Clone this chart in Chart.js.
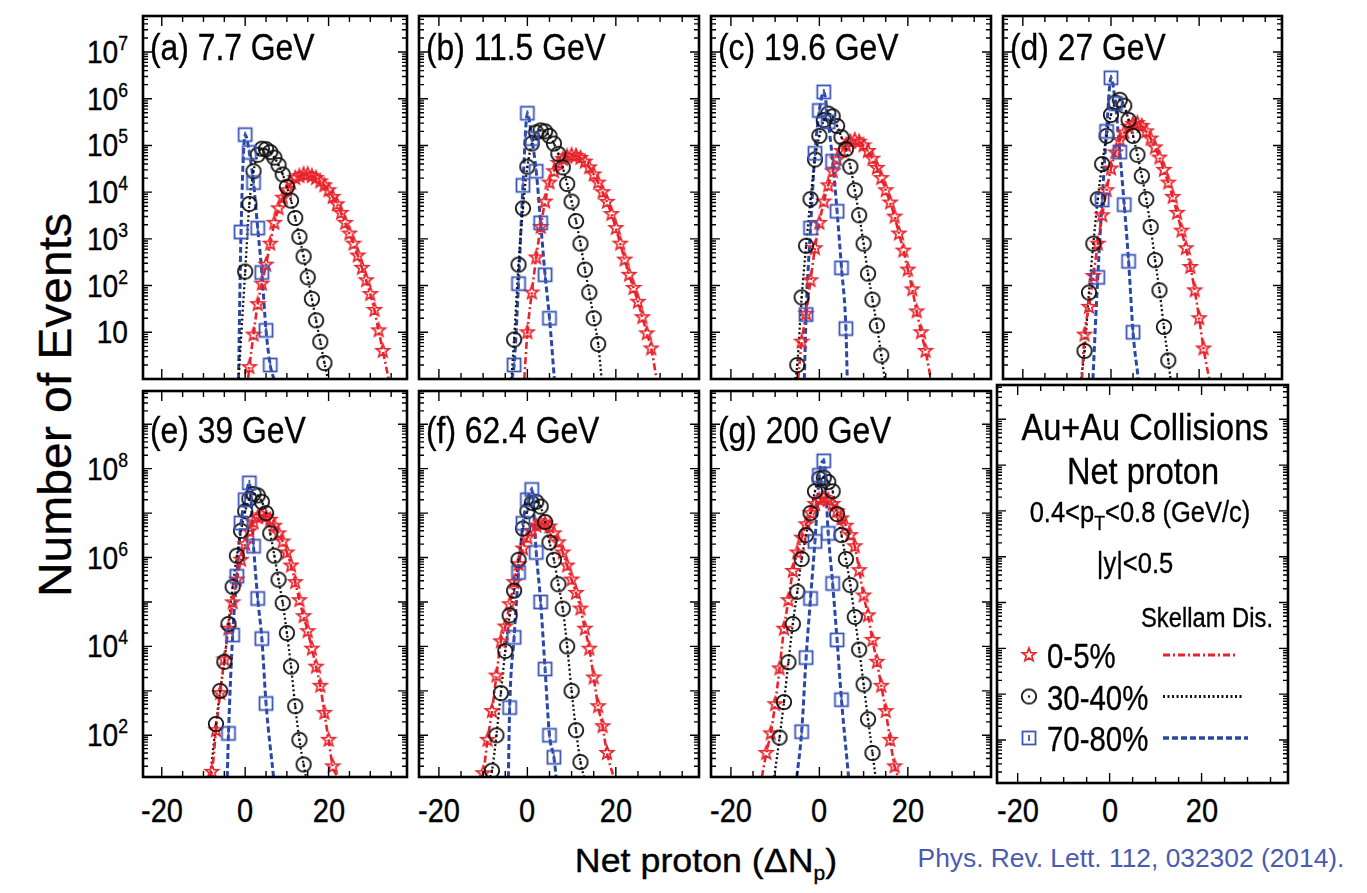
<!DOCTYPE html>
<html>
<head>
<meta charset="utf-8">
<title>Net proton distributions</title>
<script src="https://cdn.jsdelivr.net/npm/chart.js@4.4.1/dist/chart.umd.min.js"></script>
<style>
  body { margin:0; background:#fff; width:1367px; height:893px; position:relative; overflow:hidden;
         font-family:"Liberation Sans", Arial, Helvetica, sans-serif; color:#000; }
  canvas { position:absolute; }
  .t { position:absolute; white-space:nowrap; line-height:1; -webkit-text-stroke:0.35px currentColor; }
  .sup { font-size:20px; position:relative; top:-13px; }
  .sub { font-size:20px; position:relative; top:8px; }
</style>
</head>
<body>
<script>
// net proton number runs in steps of 1, starting at the *From value of each panel
const panelNames = ['(a) 7.7 GeV', '(b) 11.5 GeV', '(c) 19.6 GeV', '(d) 27 GeV',
                    '(e) 39 GeV', '(f) 62.4 GeV', '(g) 200 GeV'];
const legendNames = ['0-5%', '30-40%', '70-80%'];

const starFrom   = [1, 0, -4, -6, -8, -10, -12];
const circleFrom = [0, -3, -5, -6, -7, -8, -9];
const squareFrom = [-1, -3, -3, -3, -4, -4, -4];

// 0-5% (stars)
const starsA = [1.8, 8.9, 40, 110, 280, 790, 2200, 4500, 7600, 1.1e4, 1.6e4, 2.0e4, 2.2e4, 2.4e4, 2.4e4, 2.2e4, 2.0e4,
                1.7e4, 1.4e4, 1.1e4, 7900, 5500, 3600, 2200, 1300, 790, 440, 240, 130, 66, 30, 11, 4];
const starsB = [10, 71, 400, 1800, 6300, 1.6e4, 2.8e4, 4.2e4, 5.1e4, 5.8e4, 6.2e4, 6.0e4, 5.4e4, 4.5e4, 3.4e4, 2.4e4,
                1.6e4, 1.0e4, 6200, 3400, 1700, 790, 360, 170, 89, 45, 21, 9.5, 4.5];
const starsC = [6.3, 25, 130, 630, 2200, 6300, 1.4e4, 2.8e4, 5.0e4, 7.6e4, 1.0e5, 1.2e5, 1.3e5, 1.2e5, 1.0e5, 7.6e4,
                5.2e4, 3.3e4, 2.0e4, 1.1e4, 6000, 3000, 1300, 560, 220, 83, 28, 10, 4];
const starsD = [8.9, 35, 160, 790, 3200, 1.1e4, 3.2e4, 7.1e4, 1.3e5, 1.9e5, 2.5e5, 2.9e5, 3.0e5, 2.6e5, 2.0e5, 1.4e5,
                9.1e4, 5.5e4, 3.0e4, 1.6e4, 7900, 3600, 1500, 630, 250, 79, 20, 4.5];
const starsE = [15, 130, 890, 5100, 2.5e4, 9.8e4, 3.2e5, 8.9e5, 2.0e6, 3.9e6, 6.2e6, 8.1e6, 8.9e6, 8.3e6, 7.1e6, 5.2e6,
                3.5e6, 2.3e6, 1.3e6, 6.6e5, 2.8e5, 1.1e5, 4.8e4, 2.2e4, 8900, 3500, 1300, 320, 79, 20];
const starsF = [14, 79, 350, 2200, 1.3e4, 2.8e4, 8.9e4, 2.8e5, 7.1e5, 1.6e6, 2.8e6, 4.0e6, 5.2e6, 5.9e6, 5.9e6, 5.0e6,
                3.5e6, 2.2e6, 1.3e6, 6.6e5, 3.2e5, 1.6e5, 7.1e4, 2.5e4, 8900, 2000, 450, 160, 40];
const starsG = [40, 110, 500, 3200, 2.5e4, 1.1e5, 5.0e5, 1.3e6, 2.8e6, 5.6e6, 1.0e7, 1.6e7, 2.0e7, 2.2e7, 2.0e7, 1.6e7,
                1.1e7, 7.6e6, 5.2e6, 3.2e6, 1.8e6, 5.2e5, 1.4e5, 5.0e4, 1.4e4, 4500, 1300, 350, 79, 20];

// 30-40% (circles)
const circlesA = [200, 5600, 2.8e4, 6.3e4, 8.5e4, 8.3e4, 7.2e4, 5.5e4, 3.8e4, 2.4e4, 1.3e4, 6600, 2800, 1100, 420, 150, 52, 18, 6.3, 2.2];
const circlesB = [7, 280, 4500, 3.5e4, 1.1e5, 1.9e5, 2.1e5, 2.0e5, 1.6e5, 1.1e5, 6.6e4, 3.4e4, 1.5e4, 6300, 2400, 790, 220, 71, 20, 5.6];
const circlesC = [2, 56, 710, 7100, 5.0e4, 1.6e5, 3.5e5, 4.8e5, 4.2e5, 2.6e5, 1.5e5, 8.3e4, 3.5e4, 1.1e4, 3200, 790, 180, 50, 14, 3.2];
const circlesD = [4, 71, 790, 7100, 4.0e4, 1.6e5, 4.5e5, 8.3e5, 9.5e5, 7.1e5, 3.5e5, 1.6e5, 6.3e4, 2.2e4, 7100, 1800, 350, 79, 13, 2.5];
const circlesE = [180, 1000, 4500, 3.2e4, 2.2e5, 1.1e6, 4.0e6, 1.1e7, 2.1e7, 2.7e7, 2.5e7, 1.8e7, 1.0e7, 3.5e6, 1.1e6, 3.2e5,
                  9.5e4, 2.0e4, 3500, 450, 79, 22];
const circlesF = [16, 100, 890, 7900, 5.0e4, 1.8e5, 8.9e5, 4.5e6, 1.1e7, 1.7e7, 1.8e7, 1.4e7, 6.3e6, 2.2e6, 8.9e5, 2.5e5,
                  7.1e4, 1.0e4, 1000, 130, 25];
const circlesG = [89, 560, 4400, 3.2e4, 1.7e5, 9.3e5, 3.2e6, 1.0e7, 3.1e7, 6.0e7, 6.3e7, 5.0e7, 3.1e7, 9.5e6, 3.2e6, 9.3e5,
                  2.4e5, 4.6e4, 8500, 1400, 230, 40];

// 70-80% (squares)
const squaresA = [1400, 1.7e5, 7.1e4, 1.6e4, 1700, 190, 11, 2];
const squaresB = [2, 110, 1.4e4, 4.9e5, 1.4e5, 2.8e4, 2200, 170, 20];
const squaresC = [24, 1700, 6.8e4, 5.6e5, 1.4e6, 3.2e5, 4.6e4, 3900, 240, 12];
const squaresD = [150, 6800, 2.0e5, 2.8e6, 7.9e5, 7.2e4, 5400, 330, 10];
const squaresE = [110, 1.8e4, 3.8e5, 6.0e6, 2.0e7, 4.8e7, 1.8e6, 1.2e5, 1.5e4, 520];
const squaresF = [420, 1.6e4, 4.6e5, 5.9e6, 2.0e7, 3.4e7, 1.3e6, 1.0e5, 3100, 100, 32];
const squaresG = [120, 5600, 1.2e5, 2.3e6, 7.1e7, 1.5e8, 3.5e6, 2.6e5, 1.4e4, 630];

// where each Skellam curve leaves the bottom of its panel (left, right)
const starTails   = [[0.7, 34.4], [-0.7, 29.2], [-4.8, 25.2], [-6.6, 22.3], [-8.9, 22.2], [-10.4, 19.5], [-13, 17.8]];
const circleTails = [[-1.6, 19.8], [-3.6, 16.8], [-5.4, 14.8], [-6.8, 13.5], [-8.4, 14.6], [-8.4, 12.8], [-10.2, 12.7]];
const squareTails = [[-1.6, 6.9], [-3.5, 6.1], [-3.4, 6.3], [-4.1, 6.2], [-4.3, 6.8], [-4.3, 6.5], [-5.1, 6.6]];

const xTicks = [-20, 0, 20];
const yExpTop = [1, 2, 3, 4, 5, 6, 7];
const yExpBottom = [2, 4, 6, 8];

const stars = [starsA, starsB, starsC, starsD, starsE, starsF, starsG];
const circles = [circlesA, circlesB, circlesC, circlesD, circlesE, circlesF, circlesG];
const squares = [squaresA, squaresB, squaresC, squaresD, squaresE, squaresF, squaresG];

const RED = '#e8232b', BLUE = '#3b55b8', BLUE_LINE = '#2a47a8', BLACK = '#111';
const colEdges = [137, 413, 705, 997, 1288];
const rowEdges = [10, 385, 783];
const XMIN = -24.5, XMAX = 38.8;
const yRange = [[1, 5.9e7], [11.5, 5.6e9]];

function marker(size, draw) {
  const c = document.createElement('canvas');
  c.width = c.height = size;
  draw(c.getContext('2d'), size / 2);
  return c;
}
const starImg = marker(18, (g, m) => {
  g.strokeStyle = RED; g.lineWidth = 1.7; g.lineJoin = 'miter'; g.beginPath();
  for (let i = 0; i < 10; i++) {
    const r = i % 2 ? 3.0 : 7.0, a = -Math.PI / 2 + i * Math.PI / 5;
    g.lineTo(m + r * Math.cos(a), m + r * Math.sin(a));
  }
  g.closePath(); g.stroke();
});
const circleImg = marker(20, (g, m) => {
  g.strokeStyle = BLACK; g.lineWidth = 1.8;
  g.beginPath(); g.arc(m, m, 7.2, 0, 2 * Math.PI); g.stroke();
  g.fillStyle = BLACK; g.beginPath(); g.arc(m, m, 1.2, 0, 2 * Math.PI); g.fill();
});
const squareImg = marker(18, (g, m) => {
  g.strokeStyle = BLUE; g.lineWidth = 1.8;
  g.strokeRect(m - 6.5, m - 6.5, 13, 13);
  g.beginPath(); g.moveTo(m, m - 3); g.lineTo(m, m + 3); g.stroke();
});

const styles = [
  { img: starImg, color: RED, dash: [7, 3, 2, 3], width: 2.6 },
  { img: circleImg, color: BLACK, dash: [2, 2.5], width: 2.3 },
  { img: squareImg, color: BLUE_LINE, dash: [6, 3], width: 3 }
];

function pts(from, vals) { return vals.map((v, i) => ({ x: from + i, y: v })); }
function curve(from, vals, tail, ymin) {
  return [{ x: tail[0], y: ymin }].concat(pts(from, vals), [{ x: tail[1], y: ymin }]);
}

function label(html, x, y, size, align, sx) {
  const d = document.createElement('div');
  d.className = 't';
  d.innerHTML = html;
  d.style.fontSize = size + 'px';
  d.style.left = x + 'px';
  d.style.top = y + 'px';
  const tx = align === 'r' ? '-100%' : align === 'c' ? '-50%' : '0';
  d.style.transformOrigin = (align === 'r' ? 'right' : align === 'c' ? 'center' : 'left') + ' center';
  d.style.transform = 'translate(' + tx + ',-50%) scaleX(' + (sx || 1) + ')';
  document.body.appendChild(d);
  return d;
}

const frame = {
  id: 'frame',
  afterDatasetsDraw(ch) {
    const ctx = ch.ctx, a = ch.chartArea, x = ch.scales.x, y = ch.scales.y;
    ctx.save();
    ctx.strokeStyle = '#000';
    ctx.lineWidth = 1.4;
    ctx.beginPath();
    for (let v = -20; v <= 35; v += 5) {
      const px = x.getPixelForValue(v), len = v % 20 === 0 ? 10 : 6;
      ctx.moveTo(px, a.bottom); ctx.lineTo(px, a.bottom - len);
      ctx.moveTo(px, a.top); ctx.lineTo(px, a.top + len);
    }
    for (let e = 0; e <= 9; e++) {
      for (let m = 1; m < 10; m++) {
        const v = m * Math.pow(10, e);
        if (v < y.min || v > y.max) continue;
        const py = y.getPixelForValue(v), len = m === 1 ? 9 : 5;
        ctx.moveTo(a.left, py); ctx.lineTo(a.left + len, py);
        ctx.moveTo(a.right, py); ctx.lineTo(a.right - len, py);
      }
    }
    ctx.stroke();
    ctx.lineWidth = 2.6;
    ctx.strokeRect(a.left, a.top, a.width, a.height);
    ctx.restore();
  }
};

const legendSamples = {
  id: 'legendSamples',
  afterDatasetsDraw(ch) {
    if (!ch.options.plugins.legendSamples.show) return;
    const ctx = ch.ctx, a = ch.chartArea;
    const ends = [240, 246, 251];
    styles.forEach((s, i) => {
      const y = a.top + 270 + i * 41.5;
      ctx.drawImage(s.img, a.left + 32 - s.img.width / 2, y - s.img.height / 2);
      ctx.save();
      ctx.strokeStyle = s.color; ctx.lineWidth = s.width + 0.6; ctx.setLineDash(s.dash);
      ctx.beginPath(); ctx.moveTo(a.left + 166, y); ctx.lineTo(a.left + ends[i], y); ctx.stroke();
      ctx.restore();
    });
  }
};

for (let p = 0; p < 8; p++) {
  const col = p % 4, row = Math.floor(p / 4);
  const L = colEdges[col], R = colEdges[col + 1], T = rowEdges[row], B = rowEdges[row + 1];
  const cv = document.createElement('canvas');
  cv.width = R - L + 4; cv.height = B - T + 4;
  cv.style.left = (L - 2) + 'px'; cv.style.top = (T - 2) + 'px';
  cv.style.width = cv.width + 'px'; cv.style.height = cv.height + 'px';
  document.body.appendChild(cv);

  const ymin = yRange[row][0], ymax = yRange[row][1];
  const datasets = [];
  if (p < 7) {
    const sets = [[stars[p], starFrom[p], starTails[p]],
                  [circles[p], circleFrom[p], circleTails[p]],
                  [squares[p], squareFrom[p], squareTails[p]]];
    sets.forEach((s, k) => {
      const st = styles[k];
      datasets.push({
        data: curve(s[1], s[0], s[2], ymin), showLine: true, borderColor: st.color,
        borderWidth: st.width, borderDash: st.dash, pointRadius: 0, fill: false,
        cubicInterpolationMode: 'monotone', order: 5
      });
      datasets.push({
        data: pts(s[1], s[0]), showLine: false, pointStyle: st.img, pointRadius: 7, order: 3 - k
      });
    });
  }

  const ch = new Chart(cv, {
    type: 'scatter',
    data: { datasets: datasets },
    options: {
      responsive: false, animation: false, events: [],
      layout: { padding: 2 },
      plugins: { legend: { display: false }, tooltip: { enabled: false }, legendSamples: { show: p === 7 } },
      scales: {
        x: { type: 'linear', min: XMIN, max: XMAX, display: false },
        y: { type: 'logarithmic', min: ymin, max: ymax, display: false }
      }
    },
    plugins: [frame, legendSamples]
  });

  if (col === 0) {
    (row === 0 ? yExpTop : yExpBottom).forEach(e => {
      const html = e === 1 ? '10' : '10<span class="sup">' + e + '</span>';
      label(html, 128, T - 2 + ch.scales.y.getPixelForValue(Math.pow(10, e)), 32, 'r', 0.88);
    });
  }
  if (row === 1) {
    xTicks.forEach(v => label(String(v), L - 2 + ch.scales.x.getPixelForValue(v), 810, 33, 'c', 0.88));
  }
  if (p < 7) label(panelNames[p], L + 13, row === 0 ? 47 : 430, 37, 'l', 0.86);
}

// legend panel text
label('Au+Au Collisions', 1145, 427, 37, 'c', 0.88);
label('Net proton', 1143, 471, 37, 'c', 0.88);
label('0.4&lt;p<span class="sub">T</span>&lt;0.8 (GeV/c)', 1140, 512, 29, 'c', 0.88);
label('|y|&lt;0.5', 1135, 563, 29, 'c', 0.88);
label('Skellam Dis.', 1207, 618, 27, 'c', 0.88);
legendNames.forEach((n, i) => label(n, 1047, 655 + i * 41.5, 35, 'l', 0.84));

// axis titles and reference
function fit(el, w, rotate) {
  const s = w / el.offsetWidth;
  el.style.transform = 'translate(-50%,-50%)' + (rotate ? ' rotate(-90deg)' : '') + ' scaleX(' + s + ')';
  el.style.transformOrigin = 'center center';
}
const yTitle = label('Number of Events', 55, 405, 46, 'c', 1);
fit(yTitle, 384, true);
const xTitle = label('Net proton (&Delta;N<span class="sub">p</span>)', 706, 860, 34, 'c', 1);
fit(xTitle, 262, false);
const cite = label('Phys. Rev. Lett. 112, 032302 (2014).', 1131, 858, 25, 'c', 1);
cite.style.color = '#4a5bb0';
cite.style.webkitTextStroke = '0px';
cite.style.fontFamily = '"Liberation Sans Narrow", "Liberation Sans", Arial, sans-serif';
fit(cite, 427, false);
</script>
</body>
</html>
